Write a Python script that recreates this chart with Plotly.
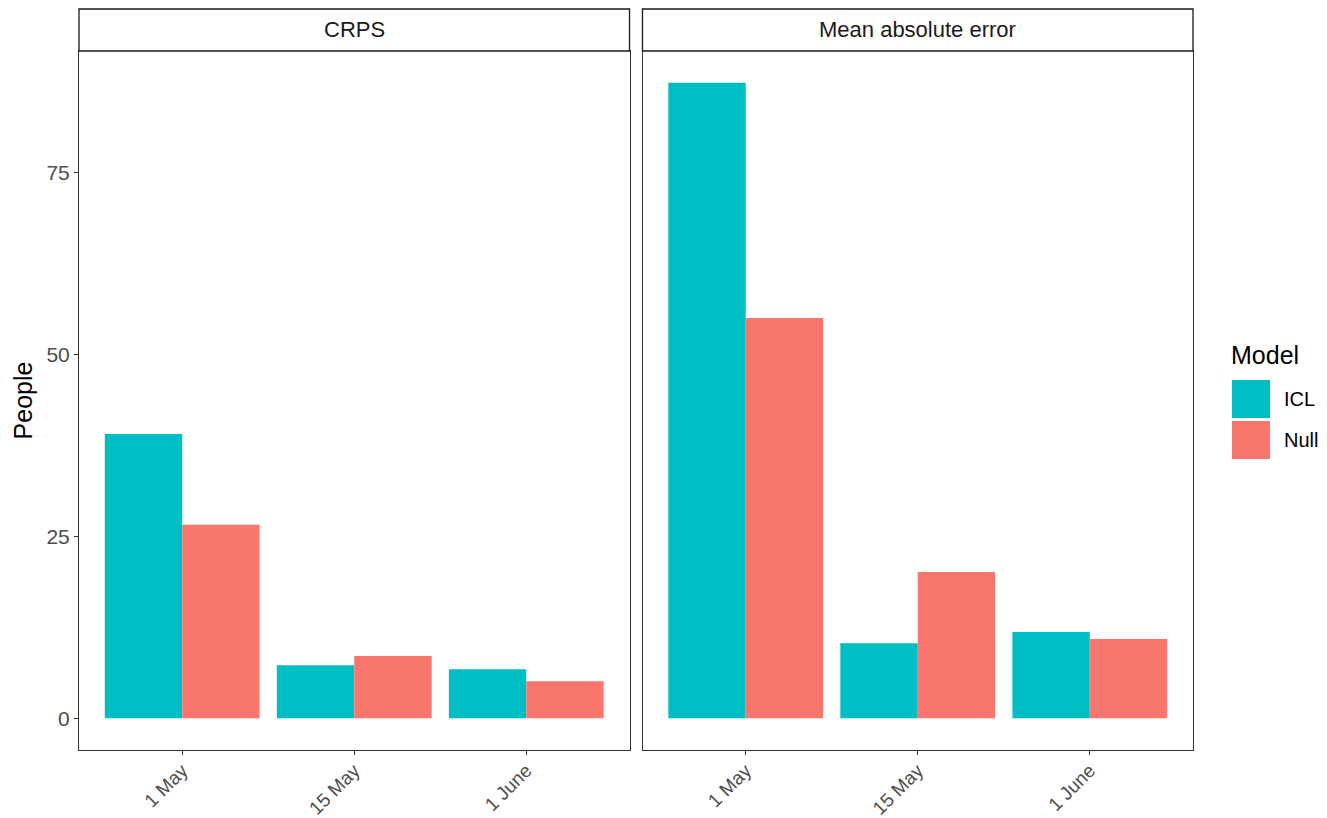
import plotly.graph_objects as go

dates = ["1 May", "15 May", "1 June"]
models = ["ICL", "Null"]
colors = {"ICL": "#00BFC4", "Null": "#F8766D"}
panels = ["CRPS", "Mean absolute error"]
crps_icl = [39.1, 7.3, 6.75]
crps_null = [26.6, 8.55, 5.1]
mae_icl = [87.4, 10.3, 11.85]
mae_null = [55.05, 20.1, 10.9]
y_ticks = [0, 25, 50, 75]

values = {
    ("CRPS", "ICL"): crps_icl, ("CRPS", "Null"): crps_null,
    ("Mean absolute error", "ICL"): mae_icl, ("Mean absolute error", "Null"): mae_null,
}

# page body has an 8px margin; compensate
OFF = 8
W, H = 1327 - OFF, 818 - OFF
ml, mt = 79 - OFF, 9 - OFF
pw, ph = 1114, 741
mr = W - ml - pw
mb = H - mt - ph
strip_h = 42
ytop = 1 - strip_h / ph
gap = 13 / pw
half = (1 - gap) / 2
doms = [[0, half], [half + gap, 1]]

def px(xpix):
    return (xpix - 79) / pw

def py(ypix):
    return (750 - ypix) / ph

fig = go.Figure()
font = "Liberation Sans, Arial, sans-serif"
for i, p in enumerate(panels):
    xa = "x" if i == 0 else "x2"
    ya = "y" if i == 0 else "y2"
    for m in models:
        fig.add_trace(go.Bar(x=dates, y=values[(p, m)], name=m, marker_color=colors[m],
                             marker_line_width=0, xaxis=xa, yaxis=ya, showlegend=False))

ymax = max(max(v) for v in values.values())
ymin = 0
pad = (ymax - ymin) * 0.05
yr = [ymin - pad, ymax + pad]

small = 22
big = 25
axis_common = dict(showline=True, mirror=True, linecolor="#333333", linewidth=1,
                   showgrid=False, zeroline=False, ticklen=4,
                   tickcolor="#333333", tickwidth=1)
ytickfont = dict(family=font, size=21, color="#4D4D4D")
xtickfont = dict(family=font, size=19, color="#4D4D4D")
fig.update_layout(
    xaxis=dict(domain=doms[0], anchor="y", type="category", range=[-0.6, 2.6],
               tickangle=-45, ticks="outside", tickfont=xtickfont, ticklabelstandoff=-3,
               **axis_common),
    xaxis2=dict(domain=doms[1], anchor="y2", type="category", range=[-0.6, 2.6],
                tickangle=-45, ticks="outside", tickfont=xtickfont, ticklabelstandoff=-3,
                **axis_common),
    yaxis=dict(domain=[0, ytop], anchor="x", range=yr, tickvals=y_ticks, ticks="outside",
               tickfont=ytickfont,
               title=dict(text="People", font=dict(family=font, size=big, color="black"), standoff=6),
               automargin=False, **axis_common),
    yaxis2=dict(domain=[0, ytop], anchor="x2", range=yr, tickvals=y_ticks, ticks="",
                showticklabels=False, **axis_common),
    barmode="group", bargap=0.1, bargroupgap=0,
    width=W, height=H,
    margin=dict(l=ml, r=mr, t=mt, b=mb, autoexpand=False),
    plot_bgcolor="white", paper_bgcolor="white",
    font=dict(family=font),
)

# facet strips
for i, p in enumerate(panels):
    fig.add_shape(type="rect", xref="paper", yref="paper", x0=doms[i][0], x1=doms[i][1],
                  y0=ytop, y1=1, line=dict(color="#1A1A1A", width=1.3), fillcolor="white")
    fig.add_annotation(xref="paper", yref="paper", x=(doms[i][0] + doms[i][1]) / 2,
                       y=(ytop + 1) / 2, text=p, showarrow=False,
                       xanchor="center", yanchor="middle",
                       font=dict(family=font, size=small, color="#1A1A1A"))

# legend (manual, to match ggplot key size)
fig.add_annotation(xref="paper", yref="paper", x=px(1229), y=py(355),
                   text="Model", showarrow=False, xanchor="left", yanchor="middle",
                   font=dict(family=font, size=big, color="black"))
for j, m in enumerate(models):
    top = 380 + j * 41
    fig.add_shape(type="rect", xref="paper", yref="paper", x0=px(1232), x1=px(1270),
                  y0=py(top + 38), y1=py(top), fillcolor=colors[m], line=dict(width=0))
    fig.add_annotation(xref="paper", yref="paper", x=px(1282), y=py(top + 19),
                       text=m, showarrow=False, xanchor="left", yanchor="middle",
                       font=dict(family=font, size=20, color="black"))

fig.write_html("out.html")
